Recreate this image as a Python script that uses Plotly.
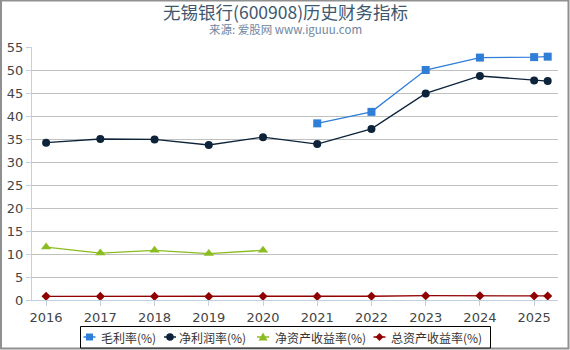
import plotly.graph_objects as go

years = [2016, 2017, 2018, 2019, 2020, 2021, 2022, 2023, 2024, 2025, 2025.25]
tick_vals = [2016, 2017, 2018, 2019, 2020, 2021, 2022, 2023, 2024, 2025]
tick_text = ["2016", "2017", "2018", "2019", "2020", "2021", "2022", "2023", "2024", "2025"]

gross_margin = [None, None, None, None, None, 38.4, 40.9, 50.0, 52.7, 52.8, 52.9]
net_margin = [34.2, 35.0, 34.9, 33.7, 35.4, 33.9, 37.2, 44.9, 48.7, 47.7, 47.6]
roe = [11.5, 10.2, 10.8, 10.1, 10.8, None, None, None, None, None, None]
roa = [0.80, 0.78, 0.78, 0.76, 0.80, 0.78, 0.82, 0.93, 0.93, 0.88, 0.88]

names = ["毛利率(%)", "净利润率(%)", "净资产收益率(%)", "总资产收益率(%)"]
colors = ["#2f7ed8", "#0d233a", "#8bbc21", "#910000"]
symbols = ["square", "circle", "triangle-up", "diamond"]
sizes = [8, 8, 9, 7]

W, H = 570, 350
L, R, T, B = 32, 12, 47, 50
pw = W - L - R
ph = H - T - B


def py(pix_y):
    return (H - B - pix_y) / ph


def px(pix_x):
    return (pix_x - L) / pw


fig = go.Figure()
for name, vals, c, s, sz in zip(names, [gross_margin, net_margin, roe, roa], colors, symbols, sizes):
    fig.add_trace(go.Scatter(
        x=years, y=vals, name=name, mode="lines+markers",
        line=dict(color=c, width=1.3),
        marker=dict(symbol=s, size=sz, color=c),
        connectgaps=False, showlegend=False,
    ))

# outer frame
fig.add_shape(type="rect", xref="paper", yref="paper",
              x0=px(1), x1=px(W - 1.5), y0=py(H - 1.5), y1=py(0.5),
              line=dict(color="#909090", width=2), layer="below")

cx = 0.5 * (px(0) + px(W))
fig.add_annotation(text="无锡银行(600908)历史财务指标", xref="paper", yref="paper",
                   x=cx, y=py(12), xanchor="center", yanchor="middle",
                   showarrow=False, borderpad=0,
                   font=dict(size=17.5, color="#3e576f", family="Noto Sans CJK SC, DejaVu Sans"))
fig.add_annotation(text="来源: 爱股网 www.iguuu.com", xref="paper", yref="paper",
                   x=cx, y=py(29.5), xanchor="center", yanchor="middle",
                   showarrow=False, borderpad=0,
                   font=dict(size=11.5, color="#6d869f", family="Noto Sans CJK SC, DejaVu Sans"))

# manual legend (box, symbols, texts) in pixel positions converted to paper coords
fig.add_shape(type="rect", xref="paper", yref="paper",
              x0=px(80.5), x1=px(490.5), y0=py(348), y1=py(326.5),
              line=dict(color="#000000", width=1), fillcolor="white")
leg_line_x = [83.5, 164, 257, 373.5]
leg_text_x = [101, 178.5, 274.5, 391]
ly = 337
for i, (name, c, s) in enumerate(zip(names, colors, symbols)):
    x0 = leg_line_x[i]
    xc = x0 + 6
    fig.add_shape(type="line", xref="paper", yref="paper",
                  x0=px(x0), x1=px(x0 + 12), y0=py(ly), y1=py(ly),
                  line=dict(color=c, width=1.5))
    if s == "square":
        fig.add_shape(type="rect", xref="paper", yref="paper",
                      x0=px(xc - 3.5), x1=px(xc + 3.5), y0=py(ly + 3.5), y1=py(ly - 3.5),
                      line=dict(width=0), fillcolor=c)
    elif s == "circle":
        fig.add_shape(type="circle", xref="paper", yref="paper",
                      x0=px(xc - 3.8), x1=px(xc + 3.8), y0=py(ly + 3.8), y1=py(ly - 3.8),
                      line=dict(width=0), fillcolor=c)
    elif s == "triangle-up":
        path = "M {} {} L {} {} L {} {} Z".format(
            px(xc), py(ly - 4.5), px(xc - 4.5), py(ly + 3.5), px(xc + 4.5), py(ly + 3.5))
        fig.add_shape(type="path", xref="paper", yref="paper", path=path,
                      line=dict(width=0), fillcolor=c)
    else:
        path = "M {} {} L {} {} L {} {} L {} {} Z".format(
            px(xc), py(ly - 4), px(xc + 4), py(ly), px(xc), py(ly + 4), px(xc - 4), py(ly))
        fig.add_shape(type="path", xref="paper", yref="paper", path=path,
                      line=dict(width=0), fillcolor=c)
    fig.add_annotation(text=name, xref="paper", yref="paper",
                       x=px(leg_text_x[i] - 1), y=py(ly), xanchor="left", yanchor="middle",
                       showarrow=False, borderpad=0,
                       font=dict(size=12, color="#333333", family="Noto Sans CJK SC, DejaVu Sans"))

fig.update_layout(
    width=W, height=H,
    margin=dict(l=L, r=R, t=T, b=B, autoexpand=False),
    paper_bgcolor="white", plot_bgcolor="white",
    font=dict(family="DejaVu Sans, Noto Sans CJK SC", size=13, color="#333333"),
    xaxis=dict(
        range=[2015.74, 2025.44], tickvals=tick_vals, ticktext=tick_text,
        showgrid=False, showline=True, linecolor="#c0d0e0", linewidth=1,
        ticks="outside", tickcolor="#c0d0e0", ticklen=5, zeroline=False,
        tickfont=dict(size=13, color="#444444"),
    ),
    yaxis=dict(
        range=[0, 55], tickvals=list(range(0, 56, 5)),
        showgrid=True, gridcolor="#c0c0c0", gridwidth=1,
        showline=True, linecolor="#c0d0e0", linewidth=1,
        ticks="outside", tickcolor="#c0d0e0", ticklen=5, zeroline=False,
        tickfont=dict(size=13, color="#444444"),
    ),
    showlegend=False,
)

fig.write_html("out.html")
